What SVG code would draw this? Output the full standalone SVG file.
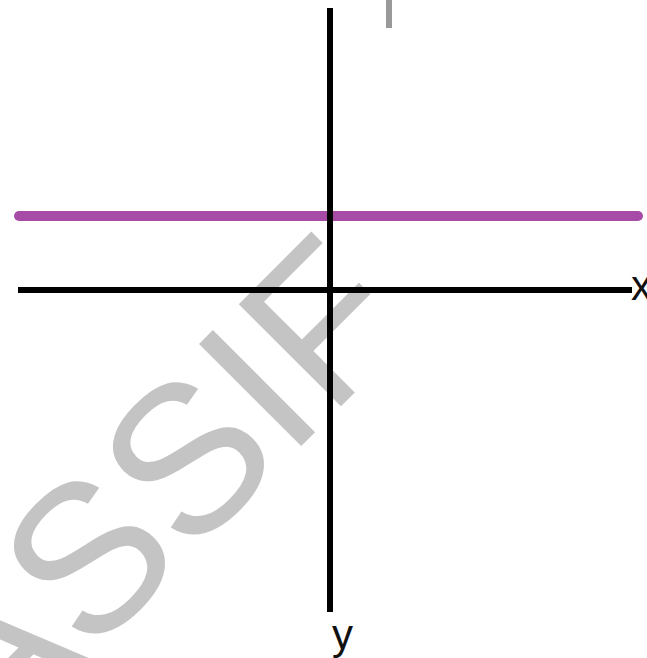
<svg xmlns="http://www.w3.org/2000/svg" width="647" height="658" viewBox="0 0 647 658">
  <style>
    .axis { stroke: #000; stroke-width: 6; fill: none; }
    .purple { stroke: #a64ca6; stroke-width: 10; stroke-linecap: round; fill: none; }
    .lbl { font-family: "Liberation Sans", Arial, sans-serif; font-size: 42px; fill: #111; }
    .wm { font-family: "Liberation Sans", Arial, sans-serif; font-size: 210px; fill: #c4c4c4; }
  </style>
  <rect width="647" height="658" fill="#fff"/>
  <g id="watermark">
    <text class="wm" transform="translate(-9.6,756.9) rotate(-45)">ASSIF</text>
  </g>
  <g id="top-mark">
    <rect x="386" y="0" width="6" height="28" fill="#999"/>
  </g>
  <g id="connectors">
    <line id="purple-line" class="purple" x1="19" y1="216" x2="638" y2="216"/>
    <line id="x-axis" class="axis" x1="18" y1="290" x2="632" y2="290"/>
    <line id="y-axis" class="axis" x1="330" y1="8" x2="330" y2="612"/>
  </g>
  <g id="label-x">
    <text class="lbl" x="631" y="300">x</text>
  </g>
  <g id="label-y">
    <text class="lbl" x="332" y="649">y</text>
  </g>
</svg>
